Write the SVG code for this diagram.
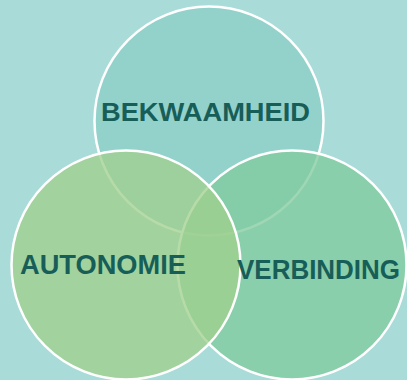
<svg xmlns="http://www.w3.org/2000/svg" width="407" height="380" viewBox="0 0 407 380">
  <style>
    .c { stroke: #ffffff; stroke-width: 2.5; fill-opacity: 0.76; }
    .t { font-family: "Liberation Sans", Arial, sans-serif; font-weight: bold; fill: #185e58; }
  </style>
  <rect x="0" y="0" width="407" height="380" fill="#a9dbd8"/>
  <g id="bekwaamheid">
    <circle class="c" cx="209" cy="121" r="114.5" fill="#8ccfc7"/>
  </g>
  <g id="verbinding">
    <circle class="c" cx="292" cy="265" r="114.5" fill="#81cb9c"/>
  </g>
  <g id="autonomie">
    <circle class="c" cx="126" cy="265" r="114.5" fill="#a1d08d"/>
  </g>
  <g id="labels">
    <text class="t" x="101" y="121" font-size="26" textLength="209" lengthAdjust="spacingAndGlyphs">BEKWAAMHEID</text>
    <text class="t" x="20" y="273.5" font-size="27.5" textLength="166" lengthAdjust="spacingAndGlyphs">AUTONOMIE</text>
    <text class="t" x="237" y="278.5" font-size="27" textLength="163" lengthAdjust="spacingAndGlyphs">VERBINDING</text>
  </g>
</svg>
